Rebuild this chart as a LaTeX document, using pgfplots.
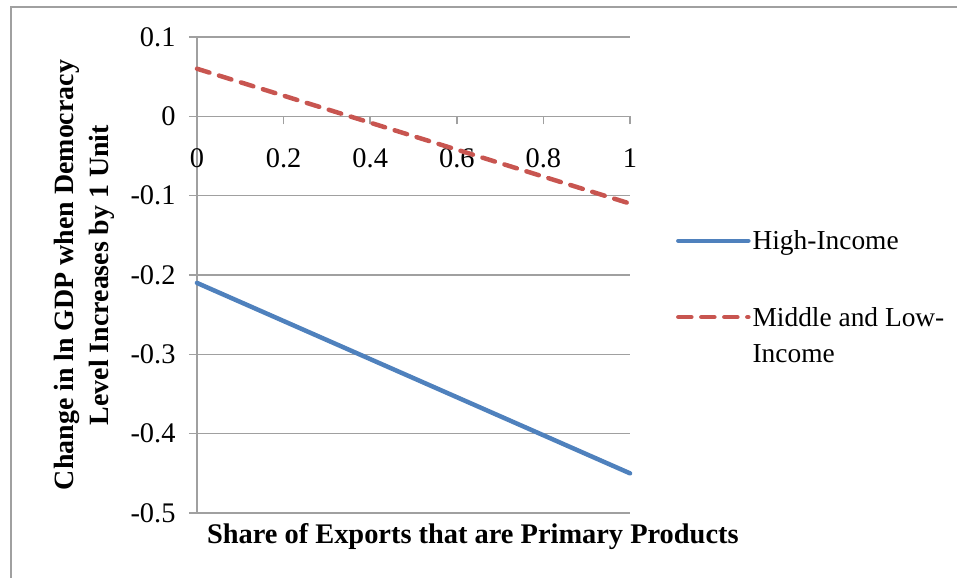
\documentclass[border=0pt]{standalone}
\usepackage{fontspec}
\setmainfont{Liberation Serif}
\usepackage{pgfplots}
\pgfplotsset{compat=1.18}
\definecolor{gridgray}{RGB}{160,160,160}
\definecolor{hiblue}{RGB}{79,129,189}
\definecolor{lored}{RGB}{200,85,80}
\pgfplotsset{raisedlegend/.style={legend image code/.code={\draw[##1] (0bp,18.5bp) -- (70bp,18.5bp);}}}
\begin{document}
\begin{tikzpicture}[x=1bp,y=1bp]
\useasboundingbox (-197,-65) rectangle (760,513);
\draw[gridgray, line width=1.5bp] (-186,-65) -- (-186,506) -- (760,506);
\begin{axis}[
  at={(0,0)}, anchor=south west,
  scale only axis, width=433bp, height=476bp,
  xmin=0, xmax=1, ymin=-0.5, ymax=0.1,
  axis x line*=middle, axis y line*=left,
  hide obscured x ticks=false, hide obscured y ticks=false,
  axis line style={gridgray, line width=1.5bp, -},
  tick align=outside,
  major tick length=8bp,
  tick style={gridgray, line width=1.5bp},
  xtick={0,0.2,0.4,0.6,0.8,1},
  xticklabels={0,0.2,0.4,0.6,0.8,1},
  ytick={-0.5,-0.4,-0.3,-0.2,-0.1,0,0.1},
  yticklabels={-0.5,-0.4,-0.3,-0.2,-0.1,0,0.1},
  ymajorgrids,
  grid style={gridgray, line width=1.5bp},
  ticklabel style={font=\fontsize{28.5}{32}\selectfont},
  xticklabel style={yshift=-21bp},
  yticklabel style={xshift=-10bp},
  xlabel={\textbf{Share of Exports that are Primary Products}},
  xlabel style={at={(axis description cs:0.637,-0.05)}, anchor=center, font=\fontsize{28.5}{32}\selectfont},
  ylabel={\textbf{Change in ln GDP when Democracy}\\\textbf{Level Increases by 1 Unit}},
  ylabel style={at={(axis description cs:-0.261,0.5)}, anchor=center, align=center, rotate=0, font=\fontsize{28}{35}\selectfont},
  legend style={at={(1.106,0.598)}, anchor=north west, draw=none, fill=none, inner sep=0pt,
    font=\fontsize{27.5}{37}\selectfont, row sep=52bp, cells={align=left}},
  legend cell align=left,
  legend image code/.code={\draw[#1] (0bp,0bp) -- (70bp,0bp);},
  clip=false,
]
\addplot[hiblue, line width=4.5bp, line cap=round] coordinates {(0,-0.21) (1,-0.45)};
\addlegendentry{High-Income}
\addplot[lored, line width=4.5bp, dash pattern=on 13bp off 10bp, line cap=round, raisedlegend] coordinates {(0,0.06) (1,-0.11)};
\addlegendentry{Middle and Low-\\Income}
\end{axis}
\end{tikzpicture}
\end{document}
